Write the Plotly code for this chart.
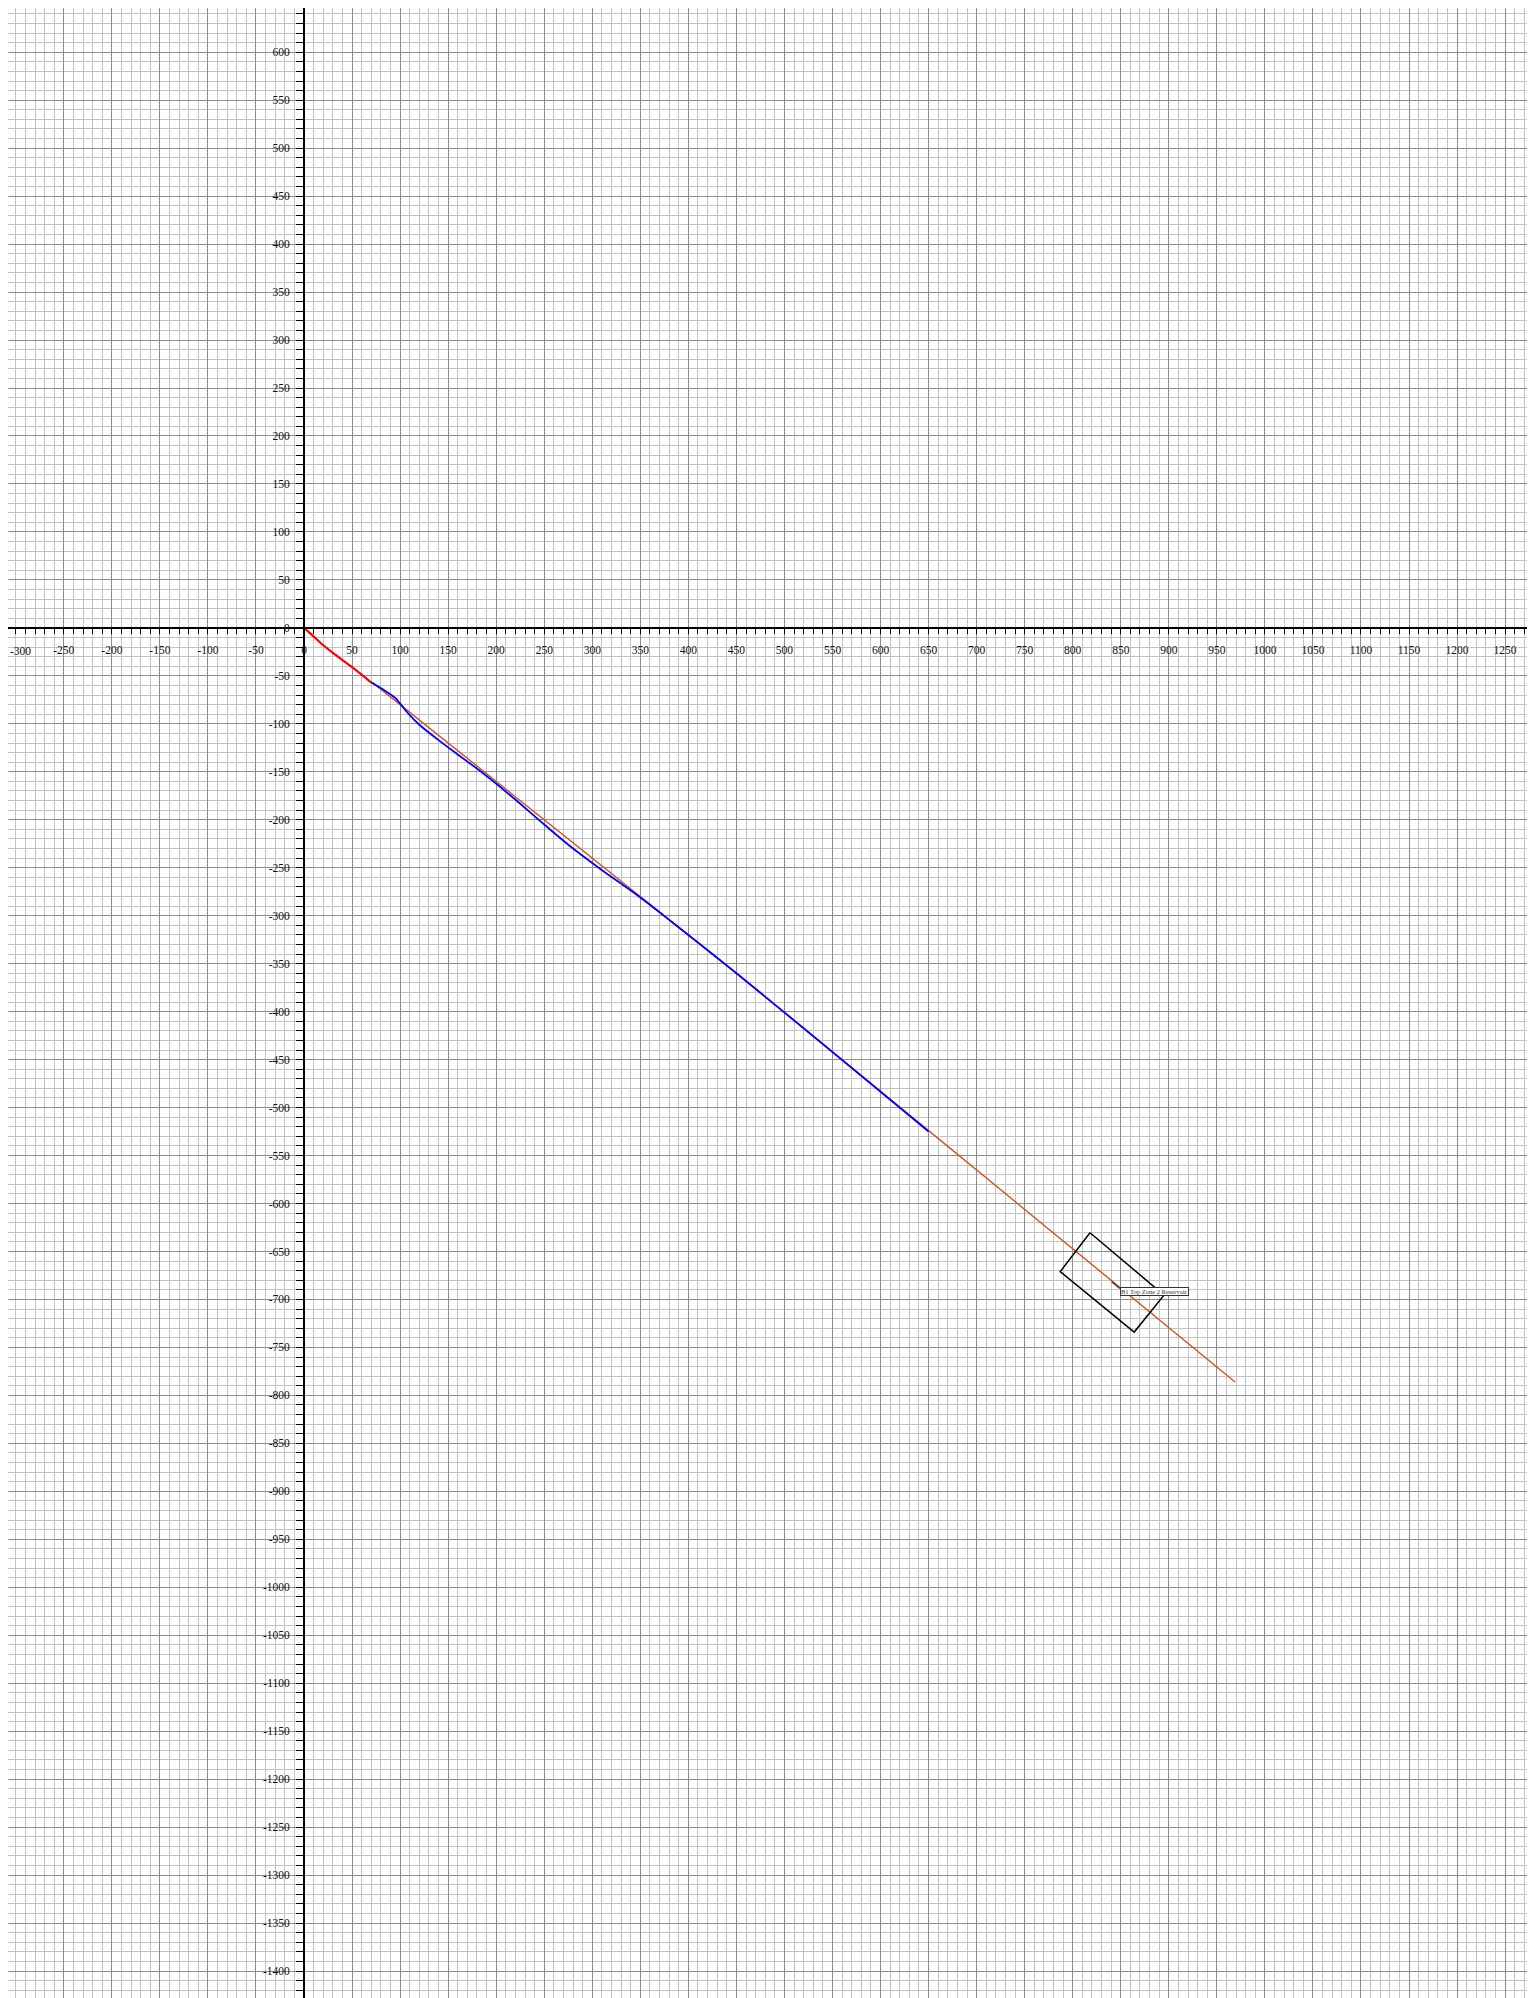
import plotly.graph_objects as go

# ---- data (well-path style chart) ----
red_x = [0, 4, 8, 17, 30, 50, 70]
red_y = [0, -3.5, -7, -15.5, -26, -41, -57]

blue_x = [70, 85, 95, 100, 110, 120, 140, 160, 183, 214, 250, 280, 308, 350, 377, 450, 650]
blue_y = [-57, -66, -73, -79, -91, -101, -117, -132, -149, -174, -205, -230, -251, -281, -302, -360, -525]

orange_x = [70, 100, 200, 300, 400, 450, 650, 969]
orange_y = [-56, -80, -160, -240, -320, -360, -524, -786]

box_x = [818, 895, 864, 787, 818]
box_y = [-630.5, -695.5, -734, -671, -630.5]

pointer_x = [840.5, 849]
pointer_y = [-681.5, -688.5]
label_text = "B1 Top Zone 2 Reservoir"
label_x = 849
label_y = -691.5

x_range = [-308.1, 1278.0]
y_range = [-1428.1, 646.1]

x_major_vals = list(range(-250, 1301, 50))
x_major_text = [str(v) for v in x_major_vals]
x_edge_label = "-300"
y_major_vals = list(range(-1450, 701, 50))
y_major_text = [str(v) for v in y_major_vals]

fig = go.Figure()
fig.add_trace(go.Scatter(x=orange_x, y=orange_y, mode="lines",
                         line=dict(color="#d2521e", width=1.4),
                         hoverinfo="skip"))
fig.add_trace(go.Scatter(x=red_x, y=red_y, mode="lines",
                         line=dict(color="#ff0000", width=2.2, shape="spline"),
                         hoverinfo="skip"))
fig.add_trace(go.Scatter(x=blue_x, y=blue_y, mode="lines",
                         line=dict(color="#0000ff", width=1.8, shape="spline"),
                         hoverinfo="skip"))
fig.add_trace(go.Scatter(x=box_x, y=box_y, mode="lines",
                         line=dict(color="#000000", width=1.5),
                         hoverinfo="skip"))
fig.add_trace(go.Scatter(x=pointer_x, y=pointer_y, mode="lines",
                         line=dict(color="#333333", width=1.2),
                         hoverinfo="skip"))

fig.add_annotation(x=label_x, y=label_y, text=label_text, showarrow=False,
                   xanchor="left", yanchor="middle",
                   font=dict(family="Liberation Serif", size=6.5, color="#333333"),
                   bgcolor="white", bordercolor="#333333", borderwidth=1, borderpad=0)

y0_frac = (0 - y_range[0]) / (y_range[1] - y_range[0])
x0_frac = (0 - x_range[0]) / (x_range[1] - x_range[0])

tickfont = dict(family="Liberation Serif", size=11.5, color="#111111")

# the leftmost x tick label sits at the page edge; keep it fully visible
fig.add_annotation(xref="paper", x=0, yref="y", y=0, text=x_edge_label,
                   showarrow=False, xanchor="left", yanchor="middle", yshift=-23,
                   font=tickfont)

fig.update_xaxes(range=x_range, anchor="free", position=y0_frac,
                 tickmode="array", tickvals=x_major_vals, ticktext=x_major_text,
                 showgrid=True, gridcolor="#8c8c8c", gridwidth=1,
                 ticks="outside", ticklen=5, tickwidth=1.2, tickcolor="#000",
                 showline=True, linecolor="#000", linewidth=2,
                 zeroline=False, tickfont=tickfont, ticklabelstandoff=6,
                 ticklabeloverflow="allow",
                 minor=dict(tickmode="linear", dtick=10, tick0=0, showgrid=True,
                            gridcolor="#c4c4c4", gridwidth=1, ticks="outside",
                            ticklen=5, tickwidth=1.2, tickcolor="#000"),
                 automargin=False, fixedrange=True)
fig.update_yaxes(range=y_range, anchor="free", position=x0_frac,
                 tickmode="array", tickvals=y_major_vals, ticktext=y_major_text,
                 showgrid=True, gridcolor="#8c8c8c", gridwidth=1,
                 ticks="outside", ticklen=7, tickwidth=1.2, tickcolor="#000",
                 showline=True, linecolor="#000", linewidth=2,
                 zeroline=False, tickfont=tickfont, ticklabelstandoff=4,
                 ticklabeloverflow="allow",
                 minor=dict(tickmode="linear", dtick=10, tick0=0, showgrid=True,
                            gridcolor="#c4c4c4", gridwidth=1, ticks="outside",
                            ticklen=7, tickwidth=1.2, tickcolor="#000"),
                 automargin=False, fixedrange=True)

fig.update_layout(width=1524, height=1990,
                  margin=dict(l=0, r=0, t=0, b=0),
                  paper_bgcolor="white", plot_bgcolor="white",
                  showlegend=False)

fig.write_html("out.html")
